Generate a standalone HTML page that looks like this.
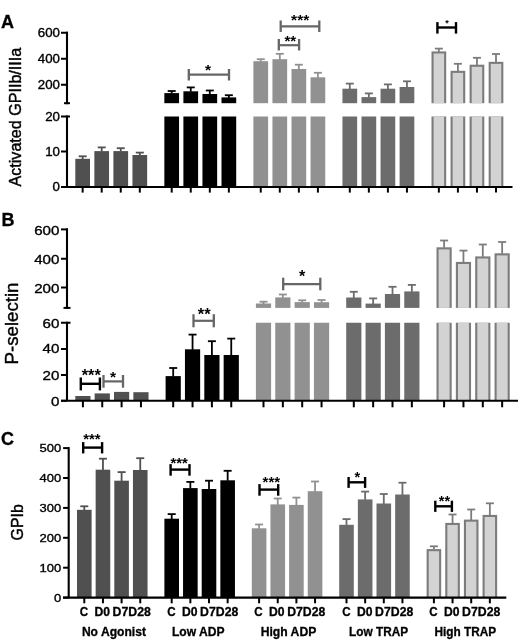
<!DOCTYPE html>
<html><head><meta charset="utf-8"><style>
html,body{margin:0;padding:0;background:#fff;}
svg{display:block;font-family:"Liberation Sans", sans-serif;will-change:transform;filter:blur(0.45px);}
</style></head><body>
<svg width="520" height="643" viewBox="0 0 520 643">
<rect width="520" height="643" fill="#fff"/>
<rect x="75.30" y="158.80" width="14.70" height="28.20" fill="#505050"/>
<line x1="82.65" y1="159.30" x2="82.65" y2="156.30" stroke="#505050" stroke-width="1.8"/>
<line x1="78.65" y1="156.30" x2="86.65" y2="156.30" stroke="#505050" stroke-width="1.8"/>
<rect x="94.35" y="151.10" width="14.70" height="35.90" fill="#505050"/>
<line x1="101.70" y1="151.60" x2="101.70" y2="147.40" stroke="#505050" stroke-width="1.8"/>
<line x1="97.70" y1="147.40" x2="105.70" y2="147.40" stroke="#505050" stroke-width="1.8"/>
<rect x="113.40" y="151.10" width="14.70" height="35.90" fill="#505050"/>
<line x1="120.75" y1="151.60" x2="120.75" y2="148.20" stroke="#505050" stroke-width="1.8"/>
<line x1="116.75" y1="148.20" x2="124.75" y2="148.20" stroke="#505050" stroke-width="1.8"/>
<rect x="132.45" y="155.00" width="14.70" height="32.00" fill="#505050"/>
<line x1="139.80" y1="155.50" x2="139.80" y2="152.60" stroke="#505050" stroke-width="1.8"/>
<line x1="135.80" y1="152.60" x2="143.80" y2="152.60" stroke="#505050" stroke-width="1.8"/>
<rect x="164.35" y="93.10" width="14.70" height="10.10" fill="#000000"/>
<line x1="171.70" y1="93.60" x2="171.70" y2="91.00" stroke="#000000" stroke-width="1.8"/>
<line x1="167.70" y1="91.00" x2="175.70" y2="91.00" stroke="#000000" stroke-width="1.8"/>
<rect x="164.35" y="116.50" width="14.70" height="70.50" fill="#000000"/>
<rect x="183.40" y="91.30" width="14.70" height="11.90" fill="#000000"/>
<line x1="190.75" y1="91.80" x2="190.75" y2="87.40" stroke="#000000" stroke-width="1.8"/>
<line x1="186.75" y1="87.40" x2="194.75" y2="87.40" stroke="#000000" stroke-width="1.8"/>
<rect x="183.40" y="116.50" width="14.70" height="70.50" fill="#000000"/>
<rect x="202.45" y="94.00" width="14.70" height="9.20" fill="#000000"/>
<line x1="209.80" y1="94.50" x2="209.80" y2="90.50" stroke="#000000" stroke-width="1.8"/>
<line x1="205.80" y1="90.50" x2="213.80" y2="90.50" stroke="#000000" stroke-width="1.8"/>
<rect x="202.45" y="116.50" width="14.70" height="70.50" fill="#000000"/>
<rect x="221.50" y="97.40" width="14.70" height="5.80" fill="#000000"/>
<line x1="228.85" y1="97.90" x2="228.85" y2="95.20" stroke="#000000" stroke-width="1.8"/>
<line x1="224.85" y1="95.20" x2="232.85" y2="95.20" stroke="#000000" stroke-width="1.8"/>
<rect x="221.50" y="116.50" width="14.70" height="70.50" fill="#000000"/>
<rect x="253.40" y="61.20" width="14.70" height="42.00" fill="#919191"/>
<line x1="260.75" y1="61.70" x2="260.75" y2="59.20" stroke="#919191" stroke-width="1.8"/>
<line x1="256.75" y1="59.20" x2="264.75" y2="59.20" stroke="#919191" stroke-width="1.8"/>
<rect x="253.40" y="116.50" width="14.70" height="70.50" fill="#919191"/>
<rect x="272.45" y="59.20" width="14.70" height="44.00" fill="#919191"/>
<line x1="279.80" y1="59.70" x2="279.80" y2="53.80" stroke="#919191" stroke-width="1.8"/>
<line x1="275.80" y1="53.80" x2="283.80" y2="53.80" stroke="#919191" stroke-width="1.8"/>
<rect x="272.45" y="116.50" width="14.70" height="70.50" fill="#919191"/>
<rect x="291.50" y="69.00" width="14.70" height="34.20" fill="#919191"/>
<line x1="298.85" y1="69.50" x2="298.85" y2="64.70" stroke="#919191" stroke-width="1.8"/>
<line x1="294.85" y1="64.70" x2="302.85" y2="64.70" stroke="#919191" stroke-width="1.8"/>
<rect x="291.50" y="116.50" width="14.70" height="70.50" fill="#919191"/>
<rect x="310.55" y="77.30" width="14.70" height="25.90" fill="#919191"/>
<line x1="317.90" y1="77.80" x2="317.90" y2="72.80" stroke="#919191" stroke-width="1.8"/>
<line x1="313.90" y1="72.80" x2="321.90" y2="72.80" stroke="#919191" stroke-width="1.8"/>
<rect x="310.55" y="116.50" width="14.70" height="70.50" fill="#919191"/>
<rect x="342.45" y="88.70" width="14.70" height="14.50" fill="#6c6c6c"/>
<line x1="349.80" y1="89.20" x2="349.80" y2="83.60" stroke="#6c6c6c" stroke-width="1.8"/>
<line x1="345.80" y1="83.60" x2="353.80" y2="83.60" stroke="#6c6c6c" stroke-width="1.8"/>
<rect x="342.45" y="116.50" width="14.70" height="70.50" fill="#6c6c6c"/>
<rect x="361.50" y="97.10" width="14.70" height="6.10" fill="#6c6c6c"/>
<line x1="368.85" y1="97.60" x2="368.85" y2="93.40" stroke="#6c6c6c" stroke-width="1.8"/>
<line x1="364.85" y1="93.40" x2="372.85" y2="93.40" stroke="#6c6c6c" stroke-width="1.8"/>
<rect x="361.50" y="116.50" width="14.70" height="70.50" fill="#6c6c6c"/>
<rect x="380.55" y="88.70" width="14.70" height="14.50" fill="#6c6c6c"/>
<line x1="387.90" y1="89.20" x2="387.90" y2="84.40" stroke="#6c6c6c" stroke-width="1.8"/>
<line x1="383.90" y1="84.40" x2="391.90" y2="84.40" stroke="#6c6c6c" stroke-width="1.8"/>
<rect x="380.55" y="116.50" width="14.70" height="70.50" fill="#6c6c6c"/>
<rect x="399.60" y="87.00" width="14.70" height="16.20" fill="#6c6c6c"/>
<line x1="406.95" y1="87.50" x2="406.95" y2="81.30" stroke="#6c6c6c" stroke-width="1.8"/>
<line x1="402.95" y1="81.30" x2="410.95" y2="81.30" stroke="#6c6c6c" stroke-width="1.8"/>
<rect x="399.60" y="116.50" width="14.70" height="70.50" fill="#6c6c6c"/>
<rect x="431.50" y="51.40" width="14.70" height="51.80" fill="#7c7c7c"/>
<rect x="433.60" y="53.50" width="10.50" height="49.70" fill="#d3d3d3"/>
<line x1="438.85" y1="51.90" x2="438.85" y2="48.60" stroke="#7c7c7c" stroke-width="1.8"/>
<line x1="434.85" y1="48.60" x2="442.85" y2="48.60" stroke="#7c7c7c" stroke-width="1.8"/>
<rect x="431.50" y="116.50" width="14.70" height="70.50" fill="#7c7c7c"/>
<rect x="433.60" y="116.50" width="10.50" height="70.50" fill="#d3d3d3"/>
<rect x="450.55" y="70.80" width="14.70" height="32.40" fill="#7c7c7c"/>
<rect x="452.65" y="72.90" width="10.50" height="30.30" fill="#d3d3d3"/>
<line x1="457.90" y1="71.30" x2="457.90" y2="63.80" stroke="#7c7c7c" stroke-width="1.8"/>
<line x1="453.90" y1="63.80" x2="461.90" y2="63.80" stroke="#7c7c7c" stroke-width="1.8"/>
<rect x="450.55" y="116.50" width="14.70" height="70.50" fill="#7c7c7c"/>
<rect x="452.65" y="116.50" width="10.50" height="70.50" fill="#d3d3d3"/>
<rect x="469.60" y="64.70" width="14.70" height="38.50" fill="#7c7c7c"/>
<rect x="471.70" y="66.80" width="10.50" height="36.40" fill="#d3d3d3"/>
<line x1="476.95" y1="65.20" x2="476.95" y2="57.80" stroke="#7c7c7c" stroke-width="1.8"/>
<line x1="472.95" y1="57.80" x2="480.95" y2="57.80" stroke="#7c7c7c" stroke-width="1.8"/>
<rect x="469.60" y="116.50" width="14.70" height="70.50" fill="#7c7c7c"/>
<rect x="471.70" y="116.50" width="10.50" height="70.50" fill="#d3d3d3"/>
<rect x="488.65" y="61.80" width="14.70" height="41.40" fill="#7c7c7c"/>
<rect x="490.75" y="63.90" width="10.50" height="39.30" fill="#d3d3d3"/>
<line x1="496.00" y1="62.30" x2="496.00" y2="54.00" stroke="#7c7c7c" stroke-width="1.8"/>
<line x1="492.00" y1="54.00" x2="500.00" y2="54.00" stroke="#7c7c7c" stroke-width="1.8"/>
<rect x="488.65" y="116.50" width="14.70" height="70.50" fill="#7c7c7c"/>
<rect x="490.75" y="116.50" width="10.50" height="70.50" fill="#d3d3d3"/>
<rect x="75.30" y="396.00" width="15.20" height="4.80" fill="#505050"/>
<rect x="94.65" y="393.40" width="15.20" height="7.40" fill="#505050"/>
<rect x="114.00" y="391.90" width="15.20" height="8.90" fill="#505050"/>
<rect x="133.35" y="392.20" width="15.20" height="8.60" fill="#505050"/>
<rect x="165.60" y="376.10" width="15.20" height="24.70" fill="#000000"/>
<line x1="173.20" y1="376.60" x2="173.20" y2="368.00" stroke="#000000" stroke-width="1.8"/>
<line x1="169.20" y1="368.00" x2="177.20" y2="368.00" stroke="#000000" stroke-width="1.8"/>
<rect x="184.95" y="349.30" width="15.20" height="51.50" fill="#000000"/>
<line x1="192.55" y1="349.80" x2="192.55" y2="334.60" stroke="#000000" stroke-width="1.8"/>
<line x1="188.55" y1="334.60" x2="196.55" y2="334.60" stroke="#000000" stroke-width="1.8"/>
<rect x="204.30" y="355.00" width="15.20" height="45.80" fill="#000000"/>
<line x1="211.90" y1="355.50" x2="211.90" y2="341.20" stroke="#000000" stroke-width="1.8"/>
<line x1="207.90" y1="341.20" x2="215.90" y2="341.20" stroke="#000000" stroke-width="1.8"/>
<rect x="223.65" y="355.00" width="15.20" height="45.80" fill="#000000"/>
<line x1="231.25" y1="355.50" x2="231.25" y2="338.60" stroke="#000000" stroke-width="1.8"/>
<line x1="227.25" y1="338.60" x2="235.25" y2="338.60" stroke="#000000" stroke-width="1.8"/>
<rect x="255.90" y="303.50" width="15.20" height="4.40" fill="#919191"/>
<line x1="263.50" y1="304.00" x2="263.50" y2="301.70" stroke="#919191" stroke-width="1.8"/>
<line x1="259.50" y1="301.70" x2="267.50" y2="301.70" stroke="#919191" stroke-width="1.8"/>
<rect x="255.90" y="322.75" width="15.20" height="78.05" fill="#919191"/>
<rect x="275.25" y="297.40" width="15.20" height="10.50" fill="#919191"/>
<line x1="282.85" y1="297.90" x2="282.85" y2="294.50" stroke="#919191" stroke-width="1.8"/>
<line x1="278.85" y1="294.50" x2="286.85" y2="294.50" stroke="#919191" stroke-width="1.8"/>
<rect x="275.25" y="322.75" width="15.20" height="78.05" fill="#919191"/>
<rect x="294.60" y="302.10" width="15.20" height="5.80" fill="#919191"/>
<line x1="302.20" y1="302.60" x2="302.20" y2="300.30" stroke="#919191" stroke-width="1.8"/>
<line x1="298.20" y1="300.30" x2="306.20" y2="300.30" stroke="#919191" stroke-width="1.8"/>
<rect x="294.60" y="322.75" width="15.20" height="78.05" fill="#919191"/>
<rect x="313.95" y="302.20" width="15.20" height="5.70" fill="#919191"/>
<line x1="321.55" y1="302.70" x2="321.55" y2="300.00" stroke="#919191" stroke-width="1.8"/>
<line x1="317.55" y1="300.00" x2="325.55" y2="300.00" stroke="#919191" stroke-width="1.8"/>
<rect x="313.95" y="322.75" width="15.20" height="78.05" fill="#919191"/>
<rect x="346.20" y="297.50" width="15.20" height="10.40" fill="#6c6c6c"/>
<line x1="353.80" y1="298.00" x2="353.80" y2="291.80" stroke="#6c6c6c" stroke-width="1.8"/>
<line x1="349.80" y1="291.80" x2="357.80" y2="291.80" stroke="#6c6c6c" stroke-width="1.8"/>
<rect x="346.20" y="322.75" width="15.20" height="78.05" fill="#6c6c6c"/>
<rect x="365.55" y="303.60" width="15.20" height="4.30" fill="#6c6c6c"/>
<line x1="373.15" y1="304.10" x2="373.15" y2="298.40" stroke="#6c6c6c" stroke-width="1.8"/>
<line x1="369.15" y1="298.40" x2="377.15" y2="298.40" stroke="#6c6c6c" stroke-width="1.8"/>
<rect x="365.55" y="322.75" width="15.20" height="78.05" fill="#6c6c6c"/>
<rect x="384.90" y="294.00" width="15.20" height="13.90" fill="#6c6c6c"/>
<line x1="392.50" y1="294.50" x2="392.50" y2="286.80" stroke="#6c6c6c" stroke-width="1.8"/>
<line x1="388.50" y1="286.80" x2="396.50" y2="286.80" stroke="#6c6c6c" stroke-width="1.8"/>
<rect x="384.90" y="322.75" width="15.20" height="78.05" fill="#6c6c6c"/>
<rect x="404.25" y="291.40" width="15.20" height="16.50" fill="#6c6c6c"/>
<line x1="411.85" y1="291.90" x2="411.85" y2="284.90" stroke="#6c6c6c" stroke-width="1.8"/>
<line x1="407.85" y1="284.90" x2="415.85" y2="284.90" stroke="#6c6c6c" stroke-width="1.8"/>
<rect x="404.25" y="322.75" width="15.20" height="78.05" fill="#6c6c6c"/>
<rect x="436.50" y="247.30" width="15.20" height="60.60" fill="#7c7c7c"/>
<rect x="438.60" y="249.40" width="11.00" height="58.50" fill="#d3d3d3"/>
<line x1="444.10" y1="247.80" x2="444.10" y2="240.50" stroke="#7c7c7c" stroke-width="1.8"/>
<line x1="440.10" y1="240.50" x2="448.10" y2="240.50" stroke="#7c7c7c" stroke-width="1.8"/>
<rect x="436.50" y="322.75" width="15.20" height="78.05" fill="#7c7c7c"/>
<rect x="438.60" y="322.75" width="11.00" height="78.05" fill="#d3d3d3"/>
<rect x="455.85" y="261.90" width="15.20" height="46.00" fill="#7c7c7c"/>
<rect x="457.95" y="264.00" width="11.00" height="43.90" fill="#d3d3d3"/>
<line x1="463.45" y1="262.40" x2="463.45" y2="250.60" stroke="#7c7c7c" stroke-width="1.8"/>
<line x1="459.45" y1="250.60" x2="467.45" y2="250.60" stroke="#7c7c7c" stroke-width="1.8"/>
<rect x="455.85" y="322.75" width="15.20" height="78.05" fill="#7c7c7c"/>
<rect x="457.95" y="322.75" width="11.00" height="78.05" fill="#d3d3d3"/>
<rect x="475.20" y="256.40" width="15.20" height="51.50" fill="#7c7c7c"/>
<rect x="477.30" y="258.50" width="11.00" height="49.40" fill="#d3d3d3"/>
<line x1="482.80" y1="256.90" x2="482.80" y2="244.50" stroke="#7c7c7c" stroke-width="1.8"/>
<line x1="478.80" y1="244.50" x2="486.80" y2="244.50" stroke="#7c7c7c" stroke-width="1.8"/>
<rect x="475.20" y="322.75" width="15.20" height="78.05" fill="#7c7c7c"/>
<rect x="477.30" y="322.75" width="11.00" height="78.05" fill="#d3d3d3"/>
<rect x="494.55" y="253.30" width="15.20" height="54.60" fill="#7c7c7c"/>
<rect x="496.65" y="255.40" width="11.00" height="52.50" fill="#d3d3d3"/>
<line x1="502.15" y1="253.80" x2="502.15" y2="242.00" stroke="#7c7c7c" stroke-width="1.8"/>
<line x1="498.15" y1="242.00" x2="506.15" y2="242.00" stroke="#7c7c7c" stroke-width="1.8"/>
<rect x="494.55" y="322.75" width="15.20" height="78.05" fill="#7c7c7c"/>
<rect x="496.65" y="322.75" width="11.00" height="78.05" fill="#d3d3d3"/>
<rect x="77.00" y="509.80" width="14.60" height="87.80" fill="#505050"/>
<line x1="84.30" y1="510.30" x2="84.30" y2="506.30" stroke="#505050" stroke-width="1.8"/>
<line x1="80.30" y1="506.30" x2="88.30" y2="506.30" stroke="#505050" stroke-width="1.8"/>
<rect x="95.65" y="469.70" width="14.60" height="127.90" fill="#505050"/>
<line x1="102.95" y1="470.20" x2="102.95" y2="458.70" stroke="#505050" stroke-width="1.8"/>
<line x1="98.95" y1="458.70" x2="106.95" y2="458.70" stroke="#505050" stroke-width="1.8"/>
<rect x="114.30" y="480.70" width="14.60" height="116.90" fill="#505050"/>
<line x1="121.60" y1="481.20" x2="121.60" y2="472.10" stroke="#505050" stroke-width="1.8"/>
<line x1="117.60" y1="472.10" x2="125.60" y2="472.10" stroke="#505050" stroke-width="1.8"/>
<rect x="132.95" y="470.00" width="14.60" height="127.60" fill="#505050"/>
<line x1="140.25" y1="470.50" x2="140.25" y2="458.20" stroke="#505050" stroke-width="1.8"/>
<line x1="136.25" y1="458.20" x2="144.25" y2="458.20" stroke="#505050" stroke-width="1.8"/>
<rect x="164.40" y="518.70" width="14.60" height="78.90" fill="#000000"/>
<line x1="171.70" y1="519.20" x2="171.70" y2="514.10" stroke="#000000" stroke-width="1.8"/>
<line x1="167.70" y1="514.10" x2="175.70" y2="514.10" stroke="#000000" stroke-width="1.8"/>
<rect x="183.05" y="488.10" width="14.60" height="109.50" fill="#000000"/>
<line x1="190.35" y1="488.60" x2="190.35" y2="481.90" stroke="#000000" stroke-width="1.8"/>
<line x1="186.35" y1="481.90" x2="194.35" y2="481.90" stroke="#000000" stroke-width="1.8"/>
<rect x="201.70" y="489.00" width="14.60" height="108.60" fill="#000000"/>
<line x1="209.00" y1="489.50" x2="209.00" y2="480.70" stroke="#000000" stroke-width="1.8"/>
<line x1="205.00" y1="480.70" x2="213.00" y2="480.70" stroke="#000000" stroke-width="1.8"/>
<rect x="220.35" y="480.30" width="14.60" height="117.30" fill="#000000"/>
<line x1="227.65" y1="480.80" x2="227.65" y2="470.80" stroke="#000000" stroke-width="1.8"/>
<line x1="223.65" y1="470.80" x2="231.65" y2="470.80" stroke="#000000" stroke-width="1.8"/>
<rect x="251.80" y="528.30" width="14.60" height="69.30" fill="#919191"/>
<line x1="259.10" y1="528.80" x2="259.10" y2="524.50" stroke="#919191" stroke-width="1.8"/>
<line x1="255.10" y1="524.50" x2="263.10" y2="524.50" stroke="#919191" stroke-width="1.8"/>
<rect x="270.45" y="504.40" width="14.60" height="93.20" fill="#919191"/>
<line x1="277.75" y1="504.90" x2="277.75" y2="498.50" stroke="#919191" stroke-width="1.8"/>
<line x1="273.75" y1="498.50" x2="281.75" y2="498.50" stroke="#919191" stroke-width="1.8"/>
<rect x="289.10" y="504.90" width="14.60" height="92.70" fill="#919191"/>
<line x1="296.40" y1="505.40" x2="296.40" y2="497.60" stroke="#919191" stroke-width="1.8"/>
<line x1="292.40" y1="497.60" x2="300.40" y2="497.60" stroke="#919191" stroke-width="1.8"/>
<rect x="307.75" y="491.20" width="14.60" height="106.40" fill="#919191"/>
<line x1="315.05" y1="491.70" x2="315.05" y2="481.50" stroke="#919191" stroke-width="1.8"/>
<line x1="311.05" y1="481.50" x2="319.05" y2="481.50" stroke="#919191" stroke-width="1.8"/>
<rect x="339.20" y="524.80" width="14.60" height="72.80" fill="#6c6c6c"/>
<line x1="346.50" y1="525.30" x2="346.50" y2="519.10" stroke="#6c6c6c" stroke-width="1.8"/>
<line x1="342.50" y1="519.10" x2="350.50" y2="519.10" stroke="#6c6c6c" stroke-width="1.8"/>
<rect x="357.85" y="499.40" width="14.60" height="98.20" fill="#6c6c6c"/>
<line x1="365.15" y1="499.90" x2="365.15" y2="491.60" stroke="#6c6c6c" stroke-width="1.8"/>
<line x1="361.15" y1="491.60" x2="369.15" y2="491.60" stroke="#6c6c6c" stroke-width="1.8"/>
<rect x="376.50" y="503.50" width="14.60" height="94.10" fill="#6c6c6c"/>
<line x1="383.80" y1="504.00" x2="383.80" y2="494.00" stroke="#6c6c6c" stroke-width="1.8"/>
<line x1="379.80" y1="494.00" x2="387.80" y2="494.00" stroke="#6c6c6c" stroke-width="1.8"/>
<rect x="395.15" y="494.50" width="14.60" height="103.10" fill="#6c6c6c"/>
<line x1="402.45" y1="495.00" x2="402.45" y2="482.70" stroke="#6c6c6c" stroke-width="1.8"/>
<line x1="398.45" y1="482.70" x2="406.45" y2="482.70" stroke="#6c6c6c" stroke-width="1.8"/>
<rect x="426.60" y="549.10" width="14.60" height="48.50" fill="#7c7c7c"/>
<rect x="428.70" y="551.20" width="10.40" height="46.40" fill="#d3d3d3"/>
<line x1="433.90" y1="549.60" x2="433.90" y2="546.30" stroke="#7c7c7c" stroke-width="1.8"/>
<line x1="429.90" y1="546.30" x2="437.90" y2="546.30" stroke="#7c7c7c" stroke-width="1.8"/>
<rect x="445.25" y="522.90" width="14.60" height="74.70" fill="#7c7c7c"/>
<rect x="447.35" y="525.00" width="10.40" height="72.60" fill="#d3d3d3"/>
<line x1="452.55" y1="523.40" x2="452.55" y2="514.50" stroke="#7c7c7c" stroke-width="1.8"/>
<line x1="448.55" y1="514.50" x2="456.55" y2="514.50" stroke="#7c7c7c" stroke-width="1.8"/>
<rect x="463.90" y="519.60" width="14.60" height="78.00" fill="#7c7c7c"/>
<rect x="466.00" y="521.70" width="10.40" height="75.90" fill="#d3d3d3"/>
<line x1="471.20" y1="520.10" x2="471.20" y2="509.50" stroke="#7c7c7c" stroke-width="1.8"/>
<line x1="467.20" y1="509.50" x2="475.20" y2="509.50" stroke="#7c7c7c" stroke-width="1.8"/>
<rect x="482.55" y="514.90" width="14.60" height="82.70" fill="#7c7c7c"/>
<rect x="484.65" y="517.00" width="10.40" height="80.60" fill="#d3d3d3"/>
<line x1="489.85" y1="515.40" x2="489.85" y2="503.30" stroke="#7c7c7c" stroke-width="1.8"/>
<line x1="485.85" y1="503.30" x2="493.85" y2="503.30" stroke="#7c7c7c" stroke-width="1.8"/>
<line x1="67.00" y1="31.75" x2="67.00" y2="104.20" stroke="#000" stroke-width="2.1"/>
<line x1="64.00" y1="103.20" x2="70.00" y2="103.20" stroke="#000" stroke-width="2"/>
<line x1="61.00" y1="32.75" x2="68.00" y2="32.75" stroke="#000" stroke-width="2"/>
<line x1="61.00" y1="58.75" x2="68.00" y2="58.75" stroke="#000" stroke-width="2"/>
<line x1="61.00" y1="84.75" x2="68.00" y2="84.75" stroke="#000" stroke-width="2"/>
<line x1="67.00" y1="115.50" x2="67.00" y2="187.00" stroke="#000" stroke-width="2.1"/>
<line x1="61.00" y1="116.50" x2="70.00" y2="116.50" stroke="#000" stroke-width="2"/>
<line x1="61.00" y1="151.50" x2="67.00" y2="151.50" stroke="#000" stroke-width="2"/>
<line x1="61.00" y1="187.00" x2="67.00" y2="187.00" stroke="#000" stroke-width="2"/>
<line x1="61.00" y1="187.00" x2="512.50" y2="187.00" stroke="#000" stroke-width="2.1"/>
<line x1="82.65" y1="187.00" x2="82.65" y2="192.60" stroke="#000" stroke-width="2"/>
<line x1="101.70" y1="187.00" x2="101.70" y2="192.60" stroke="#000" stroke-width="2"/>
<line x1="120.75" y1="187.00" x2="120.75" y2="192.60" stroke="#000" stroke-width="2"/>
<line x1="139.80" y1="187.00" x2="139.80" y2="192.60" stroke="#000" stroke-width="2"/>
<line x1="171.70" y1="187.00" x2="171.70" y2="192.60" stroke="#000" stroke-width="2"/>
<line x1="190.75" y1="187.00" x2="190.75" y2="192.60" stroke="#000" stroke-width="2"/>
<line x1="209.80" y1="187.00" x2="209.80" y2="192.60" stroke="#000" stroke-width="2"/>
<line x1="228.85" y1="187.00" x2="228.85" y2="192.60" stroke="#000" stroke-width="2"/>
<line x1="260.75" y1="187.00" x2="260.75" y2="192.60" stroke="#000" stroke-width="2"/>
<line x1="279.80" y1="187.00" x2="279.80" y2="192.60" stroke="#000" stroke-width="2"/>
<line x1="298.85" y1="187.00" x2="298.85" y2="192.60" stroke="#000" stroke-width="2"/>
<line x1="317.90" y1="187.00" x2="317.90" y2="192.60" stroke="#000" stroke-width="2"/>
<line x1="349.80" y1="187.00" x2="349.80" y2="192.60" stroke="#000" stroke-width="2"/>
<line x1="368.85" y1="187.00" x2="368.85" y2="192.60" stroke="#000" stroke-width="2"/>
<line x1="387.90" y1="187.00" x2="387.90" y2="192.60" stroke="#000" stroke-width="2"/>
<line x1="406.95" y1="187.00" x2="406.95" y2="192.60" stroke="#000" stroke-width="2"/>
<line x1="438.85" y1="187.00" x2="438.85" y2="192.60" stroke="#000" stroke-width="2"/>
<line x1="457.90" y1="187.00" x2="457.90" y2="192.60" stroke="#000" stroke-width="2"/>
<line x1="476.95" y1="187.00" x2="476.95" y2="192.60" stroke="#000" stroke-width="2"/>
<line x1="496.00" y1="187.00" x2="496.00" y2="192.60" stroke="#000" stroke-width="2"/>
<line x1="67.00" y1="228.40" x2="67.00" y2="308.90" stroke="#000" stroke-width="2.1"/>
<line x1="63.50" y1="307.90" x2="70.50" y2="307.90" stroke="#000" stroke-width="2"/>
<line x1="61.00" y1="229.40" x2="68.00" y2="229.40" stroke="#000" stroke-width="2"/>
<line x1="61.00" y1="258.75" x2="68.00" y2="258.75" stroke="#000" stroke-width="2"/>
<line x1="61.00" y1="287.50" x2="68.00" y2="287.50" stroke="#000" stroke-width="2"/>
<line x1="67.00" y1="321.75" x2="67.00" y2="400.80" stroke="#000" stroke-width="2.1"/>
<line x1="61.00" y1="322.75" x2="70.50" y2="322.75" stroke="#000" stroke-width="2"/>
<line x1="61.00" y1="349.00" x2="67.00" y2="349.00" stroke="#000" stroke-width="2"/>
<line x1="61.00" y1="375.00" x2="67.00" y2="375.00" stroke="#000" stroke-width="2"/>
<line x1="61.00" y1="400.80" x2="67.00" y2="400.80" stroke="#000" stroke-width="2"/>
<line x1="61.00" y1="400.80" x2="518.00" y2="400.80" stroke="#000" stroke-width="2.1"/>
<line x1="82.90" y1="400.80" x2="82.90" y2="407.30" stroke="#000" stroke-width="2"/>
<line x1="102.25" y1="400.80" x2="102.25" y2="407.30" stroke="#000" stroke-width="2"/>
<line x1="121.60" y1="400.80" x2="121.60" y2="407.30" stroke="#000" stroke-width="2"/>
<line x1="140.95" y1="400.80" x2="140.95" y2="407.30" stroke="#000" stroke-width="2"/>
<line x1="173.20" y1="400.80" x2="173.20" y2="407.30" stroke="#000" stroke-width="2"/>
<line x1="192.55" y1="400.80" x2="192.55" y2="407.30" stroke="#000" stroke-width="2"/>
<line x1="211.90" y1="400.80" x2="211.90" y2="407.30" stroke="#000" stroke-width="2"/>
<line x1="231.25" y1="400.80" x2="231.25" y2="407.30" stroke="#000" stroke-width="2"/>
<line x1="263.50" y1="400.80" x2="263.50" y2="407.30" stroke="#000" stroke-width="2"/>
<line x1="282.85" y1="400.80" x2="282.85" y2="407.30" stroke="#000" stroke-width="2"/>
<line x1="302.20" y1="400.80" x2="302.20" y2="407.30" stroke="#000" stroke-width="2"/>
<line x1="321.55" y1="400.80" x2="321.55" y2="407.30" stroke="#000" stroke-width="2"/>
<line x1="353.80" y1="400.80" x2="353.80" y2="407.30" stroke="#000" stroke-width="2"/>
<line x1="373.15" y1="400.80" x2="373.15" y2="407.30" stroke="#000" stroke-width="2"/>
<line x1="392.50" y1="400.80" x2="392.50" y2="407.30" stroke="#000" stroke-width="2"/>
<line x1="411.85" y1="400.80" x2="411.85" y2="407.30" stroke="#000" stroke-width="2"/>
<line x1="444.10" y1="400.80" x2="444.10" y2="407.30" stroke="#000" stroke-width="2"/>
<line x1="463.45" y1="400.80" x2="463.45" y2="407.30" stroke="#000" stroke-width="2"/>
<line x1="482.80" y1="400.80" x2="482.80" y2="407.30" stroke="#000" stroke-width="2"/>
<line x1="502.15" y1="400.80" x2="502.15" y2="407.30" stroke="#000" stroke-width="2"/>
<line x1="68.70" y1="447.10" x2="68.70" y2="597.60" stroke="#000" stroke-width="2.1"/>
<line x1="63.10" y1="597.60" x2="68.70" y2="597.60" stroke="#000" stroke-width="2"/>
<line x1="63.10" y1="567.70" x2="68.70" y2="567.70" stroke="#000" stroke-width="2"/>
<line x1="63.10" y1="537.80" x2="68.70" y2="537.80" stroke="#000" stroke-width="2"/>
<line x1="63.10" y1="507.90" x2="68.70" y2="507.90" stroke="#000" stroke-width="2"/>
<line x1="63.10" y1="478.00" x2="68.70" y2="478.00" stroke="#000" stroke-width="2"/>
<line x1="63.10" y1="448.10" x2="68.70" y2="448.10" stroke="#000" stroke-width="2"/>
<line x1="63.10" y1="597.60" x2="506.30" y2="597.60" stroke="#000" stroke-width="2.1"/>
<line x1="84.30" y1="597.60" x2="84.30" y2="603.30" stroke="#000" stroke-width="2"/>
<line x1="102.95" y1="597.60" x2="102.95" y2="603.30" stroke="#000" stroke-width="2"/>
<line x1="121.60" y1="597.60" x2="121.60" y2="603.30" stroke="#000" stroke-width="2"/>
<line x1="140.25" y1="597.60" x2="140.25" y2="603.30" stroke="#000" stroke-width="2"/>
<line x1="171.70" y1="597.60" x2="171.70" y2="603.30" stroke="#000" stroke-width="2"/>
<line x1="190.35" y1="597.60" x2="190.35" y2="603.30" stroke="#000" stroke-width="2"/>
<line x1="209.00" y1="597.60" x2="209.00" y2="603.30" stroke="#000" stroke-width="2"/>
<line x1="227.65" y1="597.60" x2="227.65" y2="603.30" stroke="#000" stroke-width="2"/>
<line x1="259.10" y1="597.60" x2="259.10" y2="603.30" stroke="#000" stroke-width="2"/>
<line x1="277.75" y1="597.60" x2="277.75" y2="603.30" stroke="#000" stroke-width="2"/>
<line x1="296.40" y1="597.60" x2="296.40" y2="603.30" stroke="#000" stroke-width="2"/>
<line x1="315.05" y1="597.60" x2="315.05" y2="603.30" stroke="#000" stroke-width="2"/>
<line x1="346.50" y1="597.60" x2="346.50" y2="603.30" stroke="#000" stroke-width="2"/>
<line x1="365.15" y1="597.60" x2="365.15" y2="603.30" stroke="#000" stroke-width="2"/>
<line x1="383.80" y1="597.60" x2="383.80" y2="603.30" stroke="#000" stroke-width="2"/>
<line x1="402.45" y1="597.60" x2="402.45" y2="603.30" stroke="#000" stroke-width="2"/>
<line x1="433.90" y1="597.60" x2="433.90" y2="603.30" stroke="#000" stroke-width="2"/>
<line x1="452.55" y1="597.60" x2="452.55" y2="603.30" stroke="#000" stroke-width="2"/>
<line x1="471.20" y1="597.60" x2="471.20" y2="603.30" stroke="#000" stroke-width="2"/>
<line x1="489.85" y1="597.60" x2="489.85" y2="603.30" stroke="#000" stroke-width="2"/>
<text transform="translate(59.93,36.81) scale(1.09,1)" font-size="12.2" text-anchor="end" stroke="#000" stroke-width="0.35">600</text>
<text transform="translate(59.93,63.46) scale(1.09,1)" font-size="12.2" text-anchor="end" stroke="#000" stroke-width="0.35">400</text>
<text transform="translate(59.93,88.91) scale(1.09,1)" font-size="12.2" text-anchor="end" stroke="#000" stroke-width="0.35">200</text>
<text transform="translate(59.93,121.31) scale(1.09,1)" font-size="12.2" text-anchor="end" stroke="#000" stroke-width="0.35">20</text>
<text transform="translate(59.93,155.81) scale(1.09,1)" font-size="12.2" text-anchor="end" stroke="#000" stroke-width="0.35">10</text>
<text transform="translate(59.93,191.21) scale(1.09,1)" font-size="12.2" text-anchor="end" stroke="#000" stroke-width="0.35">0</text>
<text transform="translate(59.41,234.52) scale(1.13,1)" font-size="13.4" text-anchor="end" stroke="#000" stroke-width="0.35">600</text>
<text transform="translate(59.41,263.52) scale(1.13,1)" font-size="13.4" text-anchor="end" stroke="#000" stroke-width="0.35">400</text>
<text transform="translate(59.41,292.72) scale(1.13,1)" font-size="13.4" text-anchor="end" stroke="#000" stroke-width="0.35">200</text>
<text transform="translate(59.41,327.97) scale(1.13,1)" font-size="13.4" text-anchor="end" stroke="#000" stroke-width="0.35">60</text>
<text transform="translate(59.41,353.37) scale(1.13,1)" font-size="13.4" text-anchor="end" stroke="#000" stroke-width="0.35">40</text>
<text transform="translate(59.41,379.62) scale(1.13,1)" font-size="13.4" text-anchor="end" stroke="#000" stroke-width="0.35">20</text>
<text transform="translate(59.41,405.62) scale(1.13,1)" font-size="13.4" text-anchor="end" stroke="#000" stroke-width="0.35">0</text>
<text transform="translate(61.22,601.53) scale(1.14,1)" font-size="11.4" text-anchor="end" stroke="#000" stroke-width="0.35">0</text>
<text transform="translate(61.22,571.63) scale(1.14,1)" font-size="11.4" text-anchor="end" stroke="#000" stroke-width="0.35">100</text>
<text transform="translate(61.22,541.73) scale(1.14,1)" font-size="11.4" text-anchor="end" stroke="#000" stroke-width="0.35">200</text>
<text transform="translate(61.22,511.83) scale(1.14,1)" font-size="11.4" text-anchor="end" stroke="#000" stroke-width="0.35">300</text>
<text transform="translate(61.22,481.93) scale(1.14,1)" font-size="11.4" text-anchor="end" stroke="#000" stroke-width="0.35">400</text>
<text transform="translate(61.22,452.03) scale(1.14,1)" font-size="11.4" text-anchor="end" stroke="#000" stroke-width="0.35">500</text>
<text x="1.00" y="27.70" font-size="18" text-anchor="start" font-weight="bold" fill="#000" stroke="#000" stroke-width="0.3">A</text>
<text x="1.60" y="225.90" font-size="18" text-anchor="start" font-weight="bold" fill="#000" stroke="#000" stroke-width="0.3">B</text>
<text x="1.00" y="444.60" font-size="18" text-anchor="start" font-weight="bold" fill="#000" stroke="#000" stroke-width="0.3">C</text>
<text transform="translate(20.90,186.50) rotate(-90)" x="0" y="0" font-size="17.2" textLength="138.7" lengthAdjust="spacingAndGlyphs" stroke="#000" stroke-width="0.4">Activated GPIIb/IIIa</text>
<text transform="translate(18.00,364.40) rotate(-90)" x="0" y="0" font-size="18.6" textLength="81.8" lengthAdjust="spacingAndGlyphs" stroke="#000" stroke-width="0.4">P-selectin</text>
<text transform="translate(23.00,540.40) rotate(-90)" x="0" y="0" font-size="17.2" textLength="36.2" lengthAdjust="spacingAndGlyphs" stroke="#000" stroke-width="0.4">GPIb</text>
<text x="79.72" y="615.60" font-size="12.2" font-weight="bold" textLength="8.41" lengthAdjust="spacingAndGlyphs" stroke="#000" stroke-width="0.3">C</text>
<text x="94.49" y="615.60" font-size="12.2" font-weight="bold" textLength="15.53" lengthAdjust="spacingAndGlyphs" stroke="#000" stroke-width="0.3">D0</text>
<text x="112.58" y="615.60" font-size="12.2" font-weight="bold" textLength="38.21" lengthAdjust="spacingAndGlyphs" stroke="#000" stroke-width="0.3">D7D28</text>
<text x="167.22" y="615.60" font-size="12.2" font-weight="bold" textLength="8.41" lengthAdjust="spacingAndGlyphs" stroke="#000" stroke-width="0.3">C</text>
<text x="181.99" y="615.60" font-size="12.2" font-weight="bold" textLength="15.53" lengthAdjust="spacingAndGlyphs" stroke="#000" stroke-width="0.3">D0</text>
<text x="200.08" y="615.60" font-size="12.2" font-weight="bold" textLength="38.21" lengthAdjust="spacingAndGlyphs" stroke="#000" stroke-width="0.3">D7D28</text>
<text x="254.32" y="615.60" font-size="12.2" font-weight="bold" textLength="8.41" lengthAdjust="spacingAndGlyphs" stroke="#000" stroke-width="0.3">C</text>
<text x="269.09" y="615.60" font-size="12.2" font-weight="bold" textLength="15.53" lengthAdjust="spacingAndGlyphs" stroke="#000" stroke-width="0.3">D0</text>
<text x="287.18" y="615.60" font-size="12.2" font-weight="bold" textLength="38.21" lengthAdjust="spacingAndGlyphs" stroke="#000" stroke-width="0.3">D7D28</text>
<text x="342.22" y="615.60" font-size="12.2" font-weight="bold" textLength="8.41" lengthAdjust="spacingAndGlyphs" stroke="#000" stroke-width="0.3">C</text>
<text x="356.99" y="615.60" font-size="12.2" font-weight="bold" textLength="15.53" lengthAdjust="spacingAndGlyphs" stroke="#000" stroke-width="0.3">D0</text>
<text x="375.08" y="615.60" font-size="12.2" font-weight="bold" textLength="38.21" lengthAdjust="spacingAndGlyphs" stroke="#000" stroke-width="0.3">D7D28</text>
<text x="429.22" y="615.60" font-size="12.2" font-weight="bold" textLength="8.41" lengthAdjust="spacingAndGlyphs" stroke="#000" stroke-width="0.3">C</text>
<text x="443.99" y="615.60" font-size="12.2" font-weight="bold" textLength="15.53" lengthAdjust="spacingAndGlyphs" stroke="#000" stroke-width="0.3">D0</text>
<text x="462.08" y="615.60" font-size="12.2" font-weight="bold" textLength="38.21" lengthAdjust="spacingAndGlyphs" stroke="#000" stroke-width="0.3">D7D28</text>
<text x="81.89" y="636.00" font-size="12.3" font-weight="bold" textLength="64.07" lengthAdjust="spacingAndGlyphs" stroke="#000" stroke-width="0.3">No Agonist</text>
<text x="171.99" y="636.00" font-size="12.3" font-weight="bold" textLength="52.63" lengthAdjust="spacingAndGlyphs" stroke="#000" stroke-width="0.3">Low ADP</text>
<text x="260.68" y="636.00" font-size="12.3" font-weight="bold" textLength="55.64" lengthAdjust="spacingAndGlyphs" stroke="#000" stroke-width="0.3">High ADP</text>
<text x="349.11" y="636.00" font-size="12.3" font-weight="bold" textLength="59.00" lengthAdjust="spacingAndGlyphs" stroke="#000" stroke-width="0.3">Low TRAP</text>
<text x="434.41" y="636.00" font-size="12.3" font-weight="bold" textLength="61.80" lengthAdjust="spacingAndGlyphs" stroke="#000" stroke-width="0.3">High TRAP</text>
<line x1="188.80" y1="74.60" x2="229.00" y2="74.60" stroke="#666666" stroke-width="2.2"/>
<line x1="188.80" y1="69.00" x2="188.80" y2="80.50" stroke="#666666" stroke-width="2.3"/>
<line x1="229.00" y1="69.00" x2="229.00" y2="80.50" stroke="#666666" stroke-width="2.3"/>
<text x="207.90" y="74.85" font-size="15.5" text-anchor="middle" fill="#000" font-weight="bold">*</text>
<line x1="280.70" y1="26.30" x2="319.30" y2="26.30" stroke="#666666" stroke-width="2.2"/>
<line x1="280.70" y1="20.50" x2="280.70" y2="32.00" stroke="#666666" stroke-width="2.3"/>
<line x1="319.30" y1="20.50" x2="319.30" y2="32.00" stroke="#666666" stroke-width="2.3"/>
<text x="300.15" y="24.70" font-size="15.5" text-anchor="middle" fill="#000" font-weight="bold">***</text>
<line x1="278.80" y1="45.20" x2="299.10" y2="45.20" stroke="#666666" stroke-width="2.2"/>
<line x1="278.80" y1="39.00" x2="278.80" y2="50.50" stroke="#666666" stroke-width="2.3"/>
<line x1="299.10" y1="39.00" x2="299.10" y2="50.50" stroke="#666666" stroke-width="2.3"/>
<text x="290.25" y="45.95" font-size="15.0" text-anchor="middle" fill="#000" font-weight="bold">**</text>
<line x1="437.40" y1="27.50" x2="456.00" y2="27.50" stroke="#000" stroke-width="2.4"/>
<line x1="437.40" y1="22.10" x2="437.40" y2="33.60" stroke="#000" stroke-width="2.4"/>
<line x1="456.00" y1="22.10" x2="456.00" y2="33.60" stroke="#000" stroke-width="2.4"/>
<text x="0.00" y="4.10" font-size="8" text-anchor="middle" fill="#000" font-weight="bold"></text>
<text x="446.9" y="25.7" font-size="9" text-anchor="middle" fill="#000" font-weight="bold">*</text>
<line x1="80.80" y1="383.80" x2="99.90" y2="383.80" stroke="#000" stroke-width="2.4"/>
<line x1="80.80" y1="377.50" x2="80.80" y2="390.40" stroke="#000" stroke-width="2.4"/>
<line x1="99.90" y1="377.50" x2="99.90" y2="390.40" stroke="#000" stroke-width="2.4"/>
<text x="91.25" y="380.76" font-size="16.3" text-anchor="middle" fill="#000" font-weight="bold">***</text>
<line x1="103.50" y1="381.40" x2="123.00" y2="381.40" stroke="#666666" stroke-width="2.2"/>
<line x1="103.50" y1="375.00" x2="103.50" y2="387.70" stroke="#666666" stroke-width="2.3"/>
<line x1="123.00" y1="375.00" x2="123.00" y2="387.70" stroke="#666666" stroke-width="2.3"/>
<text x="113.00" y="382.15" font-size="15.5" text-anchor="middle" fill="#000" font-weight="bold">*</text>
<line x1="193.50" y1="320.80" x2="213.80" y2="320.80" stroke="#666666" stroke-width="2.2"/>
<line x1="193.50" y1="314.20" x2="193.50" y2="327.30" stroke="#666666" stroke-width="2.3"/>
<line x1="213.80" y1="314.20" x2="213.80" y2="327.30" stroke="#666666" stroke-width="2.3"/>
<text x="204.25" y="319.66" font-size="16.5" text-anchor="middle" fill="#000" font-weight="bold">**</text>
<line x1="283.20" y1="284.10" x2="320.30" y2="284.10" stroke="#666666" stroke-width="2.2"/>
<line x1="283.20" y1="277.70" x2="283.20" y2="290.30" stroke="#666666" stroke-width="2.3"/>
<line x1="320.30" y1="277.70" x2="320.30" y2="290.30" stroke="#666666" stroke-width="2.3"/>
<text x="302.10" y="281.81" font-size="16.0" text-anchor="middle" fill="#000" font-weight="bold">*</text>
<line x1="83.20" y1="447.60" x2="102.10" y2="447.60" stroke="#000" stroke-width="2.4"/>
<line x1="83.20" y1="442.10" x2="83.20" y2="453.40" stroke="#000" stroke-width="2.4"/>
<line x1="102.10" y1="442.10" x2="102.10" y2="453.40" stroke="#000" stroke-width="2.4"/>
<text x="91.80" y="443.69" font-size="14.8" text-anchor="middle" fill="#000" font-weight="bold">***</text>
<line x1="170.60" y1="469.60" x2="189.50" y2="469.60" stroke="#000" stroke-width="2.4"/>
<line x1="170.60" y1="464.10" x2="170.60" y2="475.70" stroke="#000" stroke-width="2.4"/>
<line x1="189.50" y1="464.10" x2="189.50" y2="475.70" stroke="#000" stroke-width="2.4"/>
<text x="179.15" y="467.59" font-size="14.8" text-anchor="middle" fill="#000" font-weight="bold">***</text>
<line x1="259.50" y1="489.60" x2="278.20" y2="489.60" stroke="#000" stroke-width="2.4"/>
<line x1="259.50" y1="484.10" x2="259.50" y2="495.70" stroke="#000" stroke-width="2.4"/>
<line x1="278.20" y1="484.10" x2="278.20" y2="495.70" stroke="#000" stroke-width="2.4"/>
<text x="271.30" y="487.44" font-size="14.9" text-anchor="middle" fill="#000" font-weight="bold">***</text>
<line x1="348.60" y1="482.30" x2="365.10" y2="482.30" stroke="#000" stroke-width="2.4"/>
<line x1="348.60" y1="477.00" x2="348.60" y2="487.90" stroke="#000" stroke-width="2.4"/>
<line x1="365.10" y1="477.00" x2="365.10" y2="487.90" stroke="#000" stroke-width="2.4"/>
<text x="357.40" y="482.14" font-size="14.5" text-anchor="middle" fill="#000" font-weight="bold">*</text>
<line x1="435.30" y1="506.30" x2="451.90" y2="506.30" stroke="#000" stroke-width="2.4"/>
<line x1="435.30" y1="500.70" x2="435.30" y2="511.90" stroke="#000" stroke-width="2.4"/>
<line x1="451.90" y1="500.70" x2="451.90" y2="511.90" stroke="#000" stroke-width="2.4"/>
<text x="444.45" y="506.14" font-size="14.5" text-anchor="middle" fill="#000" font-weight="bold">**</text>
</svg>
</body></html>
